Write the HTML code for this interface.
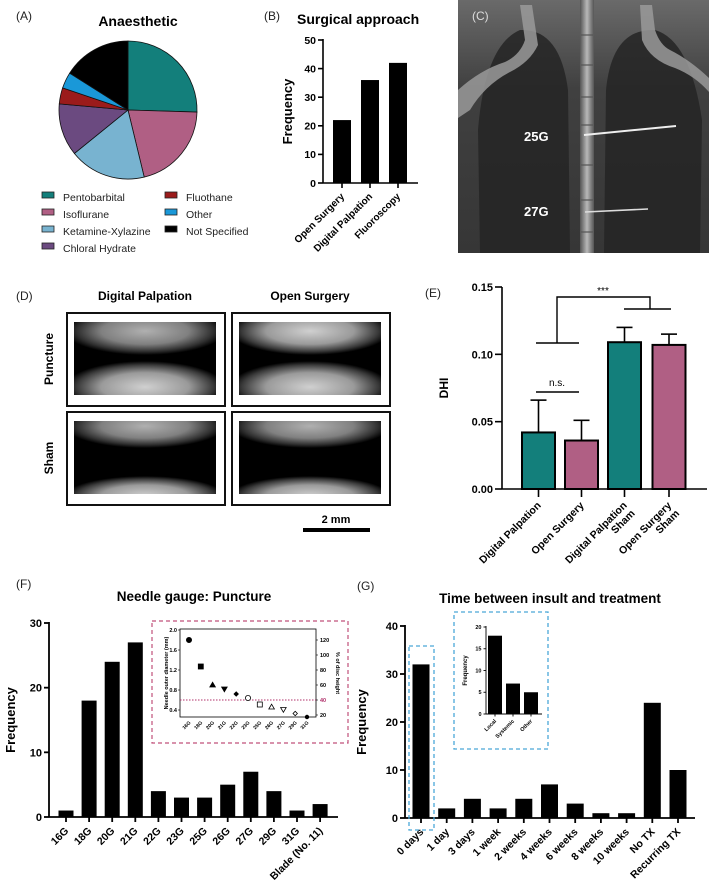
<!DOCTYPE html>
<html><head><meta charset="utf-8"><style>
html,body{margin:0;padding:0;background:#fff;}
svg{display:block;font-family:"Liberation Sans",Arial,sans-serif;}
</style></head><body>
<svg id="fig" width="709" height="891" viewBox="0 0 709 891">
<defs>
<radialGradient id="vb" cx="50%" cy="50%" r="50%"><stop offset="0" stop-color="#d0d0d0"/><stop offset="0.55" stop-color="#9a9a9a"/><stop offset="0.85" stop-color="#3a3a3a"/><stop offset="1" stop-color="#000"/></radialGradient>
<radialGradient id="vb2" cx="50%" cy="50%" r="50%"><stop offset="0" stop-color="#b0b0b0"/><stop offset="0.55" stop-color="#808080"/><stop offset="0.85" stop-color="#303030"/><stop offset="1" stop-color="#000"/></radialGradient>
<linearGradient id="xr" x1="0" y1="0" x2="0" y2="1"><stop offset="0" stop-color="#6a6a6a"/><stop offset="0.35" stop-color="#404040"/><stop offset="1" stop-color="#363636"/></linearGradient>
<linearGradient id="sp" x1="0" y1="0" x2="1" y2="0"><stop offset="0" stop-color="#555"/><stop offset="0.5" stop-color="#b8b8b8"/><stop offset="1" stop-color="#555"/></linearGradient>
</defs>
</svg>
<script>
const NS='http://www.w3.org/2000/svg';
const svg=document.getElementById('fig');
function mk(tag,attrs,parent){const e=document.createElementNS(NS,tag);for(const k in attrs)e.setAttribute(k,attrs[k]);(parent||svg).appendChild(e);return e;}
function txt(x,y,s,attrs,parent){const e=mk('text',Object.assign({x:x,y:y},attrs),parent);e.textContent=s;return e;}

// ---------- DATA ----------
const pieLabels=['Pentobarbital','Isoflurane','Ketamine-Xylazine','Chloral Hydrate','Fluothane','Other','Not Specified'];
const pieCounts=[27,22,19,13,4,4,17];
const pieColors=['#137f7b','#b05f84','#78b3d0','#6b4a80','#9b1b1b','#1a98d8','#000000'];

const approachCats=['Open Surgery','Digital Palpation','Fluoroscopy'];
const approachVals=[22,36,42];
const approachTicks=[0,10,20,30,40,50];

const dhiCats=[['Digital Palpation'],['Open Surgery'],['Digital Palpation','Sham'],['Open Surgery','Sham']];
const dhiVals=[0.042,0.036,0.109,0.107];
const dhiErr=[0.024,0.015,0.011,0.008];
const dhiTicks=['0.00','0.05','0.10','0.15'];
const dhiColors=['#137f7b','#b05f84','#137f7b','#b05f84'];

const gaugeCats=['16G','18G','20G','21G','22G','23G','25G','26G','27G','29G','31G','Blade (No. 11)'];
const gaugeVals=[1,18,24,27,4,3,3,5,7,4,1,2];
const gaugeTicks=[0,10,20,30];

const diamCats=['16G','18G','20G','21G','22G','23G','25G','26G','27G','29G','31G'];
const diamVals=[1.8,1.27,0.9,0.82,0.72,0.64,0.51,0.46,0.41,0.33,0.26];
const diamMarkers=['circle','square','tri','itri','diamond','ocircle','osquare','otri','oitri','odiamond','circle'];
const diamTicks=['0.4','0.8','1.2','1.6','2.0'];
const pctTicks=[20,40,60,80,100,120];

const timeCats=['0 days','1 day','3 days','1 week','2 weeks','4 weeks','6 weeks','8 weeks','10 weeks','No TX','Recurring TX'];
const timeVals=[32,2,4,2,4,7,3,1,1,24,10];
const timeTicks=[0,10,20,30,40];

const txCats=['Local','Systemic','Other'];
const txVals=[18,7,5];
const txTicks=[0,5,10,15,20];

// ---------- PANEL LABELS ----------
[['(A)',16,20],['(B)',264,20],['(D)',16,300],['(F)',16,588],['(G)',357,590]].forEach(p=>{
  const t=txt(p[1],p[2],p[0],{'font-size':12,fill:'#222'});
  
  
});

// ---------- A: PIE ----------
const gA=mk('g',{});


const ta=txt(138,26,'Anaesthetic',{'font-size':14,'font-weight':'bold','text-anchor':'middle'},gA);


(function(){
  const cx=128,cy=110,r=69;
  const tot=pieCounts.reduce((a,b)=>a+b,0);
  let a0=0;
  pieCounts.forEach((c,i)=>{
    const a1=a0+c/tot*2*Math.PI;
    const x0=cx+r*Math.sin(a0),y0=cy-r*Math.cos(a0),x1=cx+r*Math.sin(a1),y1=cy-r*Math.cos(a1);
    const big=(a1-a0)>Math.PI?1:0;
    const p=mk('path',{d:`M${cx},${cy}L${x0},${y0}A${r},${r} 0 ${big} 1 ${x1},${y1}Z`,fill:pieColors[i],stroke:'#111','stroke-width':0.8},gA);
    
    
    a0=a1;
  });
  const pos=[[42,197],[42,214],[42,231],[42,248],[165,197],[165,214],[165,231]];
  pieLabels.forEach((l,i)=>{
    const g=mk('g',{},gA);
    
    
    mk('rect',{x:pos[i][0],y:pos[i][1]-5,width:12,height:6,fill:pieColors[i],stroke:'#222','stroke-width':0.8},g);
    txt(pos[i][0]+21,pos[i][1]+4,l,{'font-size':10.5,fill:'#222'},g);
  });
})();

// ---------- generic bar chart ----------
function barChart(name,cats,vals,ticks,o){
  const g=mk('g',{});
  
  
  const y=v=>o.y0-(v-o.vmin)/(o.vmax-o.vmin)*(o.y0-o.yTop);
  const cx=i=>o.c0+i*o.step;
  vals.forEach((v,i)=>{
    const r=mk('rect',{x:cx(i)-o.bw/2,y:y(v),width:o.bw,height:o.y0-y(v),fill:'#000'},g);
    
    
  });
  mk('line',{x1:o.ax,y1:o.yTop-1,x2:o.ax,y2:o.y0,stroke:'#000','stroke-width':o.lw},g);
  mk('line',{x1:o.ax,y1:o.y0,x2:o.x1,y2:o.y0,stroke:'#000','stroke-width':o.lw},g);
  ticks.forEach(t=>{
    mk('line',{x1:o.ax-o.tl,y1:y(t),x2:o.ax,y2:y(t),stroke:'#000','stroke-width':o.lw},g);
    const tt=txt(o.ax-o.tl-2,y(t)+o.fs*0.36,String(t),{'font-size':o.fs,'font-weight':'bold','text-anchor':'end'},g);
    
    
  });
  cats.forEach((c,i)=>{
    mk('line',{x1:cx(i),y1:o.y0,x2:cx(i),y2:o.y0+o.tl,stroke:'#000','stroke-width':o.lw},g);
    const tx=cx(i)+o.xs*0.3, ty=o.y0+o.tl+o.xs*0.9;
    const tt=txt(tx,ty,c,{'font-size':o.xs,'font-weight':'bold','text-anchor':'end',transform:`rotate(-45 ${tx} ${ty})`},g);
    
    
  });
  const yt=txt(0,0,'Frequency',{'font-size':o.ts,'font-weight':'bold','text-anchor':'middle',transform:`translate(${o.ytx},${(o.y0+o.yTop)/2}) rotate(-90)`},g);
  
  
  return g;
}

// ---------- B ----------
const tb=txt(297,24,'Surgical approach',{'font-size':14,'font-weight':'bold'});


barChart('surgical-approach-chart',approachCats,approachVals,approachTicks,{y0:183,yTop:40,vmin:0,vmax:50,c0:342,step:28,bw:18,ax:323,x1:418,lw:1.6,tl:5,fs:10.5,xs:10,ts:13,ytx:292});

// ---------- C: X-ray ----------
(function(){
  const g=mk('g',{});
  
  
  mk('rect',{x:458,y:0,width:251,height:253,fill:'url(#xr)'},g);
  mk('path',{d:'M520,30 Q560,28 568,90 L570,253 L480,253 L478,130 Q485,45 520,30Z',fill:'#252525',opacity:0.85},g);
  mk('path',{d:'M655,30 Q612,28 606,90 L604,253 L700,253 L702,120 Q690,40 655,30Z',fill:'#252525',opacity:0.85},g);
  mk('path',{d:'M458,90 Q480,70 505,62 Q520,55 525,40 L520,5 L532,5 L538,45 Q530,62 510,72 Q485,85 470,110 L458,118Z',fill:'#9a9a9a',opacity:0.85},g);
  mk('path',{d:'M709,78 Q690,60 670,50 Q660,45 655,30 L652,5 L640,5 L642,40 Q650,60 675,68 Q695,76 709,92Z',fill:'#9a9a9a',opacity:0.85},g);
  mk('rect',{x:580,y:0,width:14,height:253,fill:'url(#sp)'},g);
  [35,65,97,125,165,200,232].forEach(yy=>mk('line',{x1:581,y1:yy,x2:593,y2:yy,stroke:'#555','stroke-width':1.2},g));
  mk('line',{x1:584,y1:135,x2:676,y2:126,stroke:'#eee','stroke-width':2},g);
  mk('line',{x1:585,y1:212,x2:648,y2:209,stroke:'#ddd','stroke-width':1.6},g);
  txt(524,141,'25G',{'font-size':13,'font-weight':'bold',fill:'#fff'},g);
  txt(524,216,'27G',{'font-size':13,'font-weight':'bold',fill:'#fff'},g);
  txt(472,20,'(C)',{'font-size':12,fill:'#ddd'},g);
})();

// ---------- D: images ----------
(function(){
  const g=mk('g',{});
  
  
  const defs=svg.querySelector('defs');
  txt(145,300,'Digital Palpation',{'font-size':12,'font-weight':'bold','text-anchor':'middle'},g);
  txt(310,300,'Open Surgery',{'font-size':12,'font-weight':'bold','text-anchor':'middle'},g);
  txt(0,0,'Puncture',{'font-size':12,'font-weight':'bold','text-anchor':'middle',transform:'translate(53,359) rotate(-90)'},g);
  txt(0,0,'Sham',{'font-size':12,'font-weight':'bold','text-anchor':'middle',transform:'translate(53,458) rotate(-90)'},g);
  const cols=[67,232],rows=[313,412];
  let n=0;
  rows.forEach((ry,ri)=>cols.forEach((cx,ci)=>{
    const id='clipD'+(n++);
    const cp=mk('clipPath',{id:id},defs);
    mk('rect',{x:cx+7,y:ry+9,width:142,height:73},cp);
    const f=mk('g',{},g);
    
    
    mk('rect',{x:cx,y:ry,width:158,height:93,fill:'#fff',stroke:'#111','stroke-width':2},f);
    const inner=mk('g',{'clip-path':`url(#${id})`},f);
    mk('rect',{x:cx+7,y:ry+9,width:142,height:73,fill:'#000'},inner);
    const top=ri===0?ry+18:ry+14, bot=ri===0?ry+74:ry+84;
    mk('ellipse',{cx:cx+78,cy:top,rx:80,ry:ri===0?24:22,fill:ci===1&&ri===0?'url(#vb)':'url(#vb2)'},inner);
    mk('ellipse',{cx:cx+78,cy:bot,rx:80,ry:ri===0?26:20,fill:'url(#vb)'},inner);
  }));
  txt(336,523,'2 mm',{'font-size':11,'font-weight':'bold','text-anchor':'middle'},g);
  mk('rect',{x:303,y:528,width:67,height:4,fill:'#000'},g);
})();

// ---------- E: DHI ----------
(function(){
  const g=mk('g',{});
  
  
  const y0=489,yT=287,ax=502;
  const y=v=>y0-v/0.15*(y0-yT);
  const cxs=[538.5,581.5,624.5,669];
  const bw=33;
  txt(425,297,'(E)',{'font-size':12,fill:'#222'},g);
  dhiVals.forEach((v,i)=>{
    const e=v+dhiErr[i];
    mk('line',{x1:cxs[i],y1:y(v),x2:cxs[i],y2:y(e),stroke:'#000','stroke-width':1.6},g);
    mk('line',{x1:cxs[i]-8,y1:y(e),x2:cxs[i]+8,y2:y(e),stroke:'#000','stroke-width':1.6},g);
    const r=mk('rect',{x:cxs[i]-bw/2,y:y(v),width:bw,height:y0-y(v),fill:dhiColors[i],stroke:'#000','stroke-width':2},g);
    
    
  });
  mk('line',{x1:ax,y1:yT,x2:ax,y2:y0,stroke:'#000','stroke-width':1.6},g);
  mk('line',{x1:ax,y1:y0,x2:707,y2:y0,stroke:'#000','stroke-width':1.6},g);
  dhiTicks.forEach(t=>{
    mk('line',{x1:ax-7,y1:y(+t),x2:ax,y2:y(+t),stroke:'#000','stroke-width':1.6},g);
    const tt=txt(ax-9,y(+t)+4,t,{'font-size':11,'font-weight':'bold','text-anchor':'end'},g);
    
    
  });
  dhiCats.forEach((c,i)=>{
    mk('line',{x1:cxs[i],y1:y0,x2:cxs[i],y2:y0+8,stroke:'#000','stroke-width':1.6},g);
    c.forEach((s,k)=>{
      const tx=cxs[i]+3+k*8, ty=y0+17+k*8;
      const tt=txt(tx,ty,s,{'font-size':10.5,'font-weight':'bold','text-anchor':'end',transform:`rotate(-45 ${tx} ${ty})`},g);
      
      
    });
  });
  const yt=txt(0,0,'DHI',{'font-size':12,'font-weight':'bold','text-anchor':'middle',transform:`translate(448,${(y0+yT)/2}) rotate(-90)`},g);
  
  
  mk('line',{x1:536,y1:392,x2:579,y2:392,stroke:'#000','stroke-width':1.4},g);
  txt(557,386,'n.s.',{'font-size':10,'text-anchor':'middle'},g);
  mk('path',{d:'M536,343H579M557,343V297H650V309M624,309H671',fill:'none',stroke:'#000','stroke-width':1.4},g);
  txt(603,294,'***',{'font-size':10,'text-anchor':'middle'},g);
})();

// ---------- F ----------
const tf=txt(194,601,'Needle gauge: Puncture',{'font-size':13.5,'font-weight':'bold','text-anchor':'middle'});


barChart('needle-gauge-chart',gaugeCats,gaugeVals,gaugeTicks,{y0:817,yTop:623,vmin:0,vmax:30,c0:66,step:23.1,bw:15,ax:49,x1:338,lw:1.8,tl:5,fs:11,xs:10.5,ts:13,ytx:15});

(function(){
  const g=mk('g',{});
  
  
  mk('rect',{x:152,y:621,width:196,height:122,fill:'#fff',stroke:'#c0507a','stroke-width':1.2,'stroke-dasharray':'4,3'},g);
  const L=180,R=316,T=629,Bt=717;
  const y=v=>630+(2.0-v)*50;
  const x=i=>189+i*11.8;
  mk('rect',{x:L,y:T,width:R-L,height:Bt-T,fill:'none',stroke:'#000','stroke-width':0.8},g);
  mk('line',{x1:L,y1:y(0.6),x2:R,y2:y(0.6),stroke:'#b0306a','stroke-width':1,'stroke-dasharray':'1.5,1.5'},g);
  diamTicks.forEach(t=>{
    mk('line',{x1:L-2,y1:y(+t),x2:L,y2:y(+t),stroke:'#000','stroke-width':0.6},g);
    txt(L-3,y(+t)+2,t,{'font-size':5.5,'font-weight':'bold','text-anchor':'end'},g);
  });
  pctTicks.forEach(t=>{
    const yy=y(0.6)-(t-40)*(y(0.6)-640)/80;
    mk('line',{x1:R,y1:yy,x2:R+2,y2:yy,stroke:'#000','stroke-width':0.6},g);
    txt(R+4,yy+2,String(t),{'font-size':5.5,'font-weight':'bold',fill:t===40?'#b0306a':'#000'},g);
  });
  txt(0,0,'Needle outer diameter (mm)',{'font-size':5.5,'font-weight':'bold','text-anchor':'middle',transform:`translate(168,${(T+Bt)/2}) rotate(-90)`},g);
  txt(0,0,'% of disc height',{'font-size':5.5,'font-weight':'bold','text-anchor':'middle',transform:`translate(336,${(T+Bt)/2}) rotate(90)`},g);
  diamCats.forEach((c,i)=>{
    const tx=x(i)+2,ty=Bt+6;
    txt(tx,ty,c,{'font-size':5,'font-weight':'bold','text-anchor':'end',transform:`rotate(-45 ${tx} ${ty})`},g);
  });
  diamVals.forEach((v,i)=>{
    const px=x(i),py=y(v),m=diamMarkers[i],open=m[0]==='o';
    const st={fill:open?'#fff':'#000',stroke:'#000','stroke-width':0.8};
    const k=open?m.slice(1):m;
    let e;
    if(k==='circle')e=mk('circle',Object.assign({cx:px,cy:py,r:i===10?1.8:2.6},st),g);
    else if(k==='square')e=mk('rect',Object.assign({x:px-2.5,y:py-2.5,width:5,height:5},st),g);
    else if(k==='tri')e=mk('path',Object.assign({d:`M${px},${py-2.8}L${px+2.8},${py+2}L${px-2.8},${py+2}Z`},st),g);
    else if(k==='itri')e=mk('path',Object.assign({d:`M${px},${py+2.8}L${px+2.8},${py-2}L${px-2.8},${py-2}Z`},st),g);
    else e=mk('path',Object.assign({d:`M${px},${py-2.2}L${px+2.2},${py}L${px},${py+2.2}L${px-2.2},${py}Z`},st),g);
    
    
  });
})();

// ---------- G ----------
const tg=txt(550,603,'Time between insult and treatment',{'font-size':13.5,'font-weight':'bold','text-anchor':'middle'});


barChart('time-to-treatment-chart',timeCats,timeVals,timeTicks,{y0:818,yTop:626,vmin:0,vmax:40,c0:421,step:25.7,bw:17,ax:405,x1:695,lw:1.8,tl:5,fs:11,xs:10.5,ts:13,ytx:366});
(function(){
  const hb=mk('rect',{x:409,y:646,width:25,height:184,fill:'none',stroke:'#4aa8d8','stroke-width':1.3,'stroke-dasharray':'4,3'});
  
  
  const ib=mk('rect',{x:454,y:612,width:94,height:137,fill:'#fff',stroke:'#4aa8d8','stroke-width':1.3,'stroke-dasharray':'4,3'});
  
  
})();
barChart('treatment-type-inset',txCats,txVals,txTicks,{y0:714,yTop:627,vmin:0,vmax:20,c0:495,step:18,bw:14,ax:486,x1:542,lw:0.9,tl:2.5,fs:5.5,xs:5.5,ts:6,ytx:467});
</script>
</body></html>
